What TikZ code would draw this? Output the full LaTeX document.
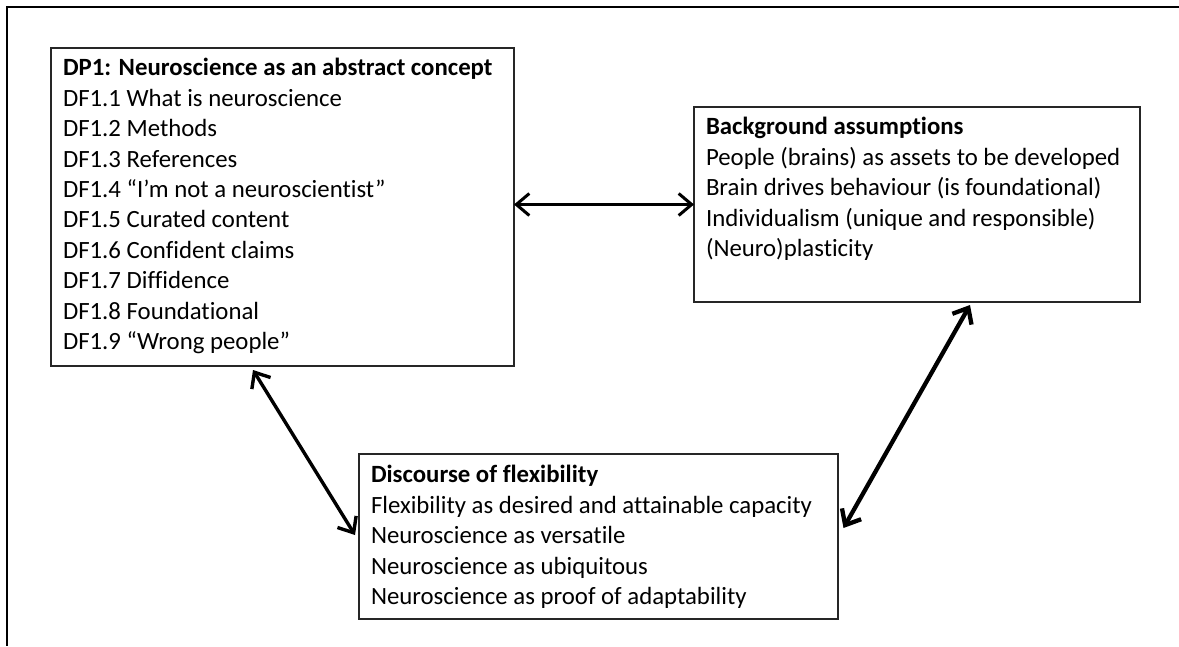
\documentclass[tikz,border=0pt]{standalone}
\usepackage{fontspec}
\setmainfont[Ligatures={NoCommon}]{Carlito}
\usetikzlibrary{arrows.meta}
\begin{document}
\begin{tikzpicture}[x=1pt,y=-1pt,
  panel/.style={draw=black!85, line width=1.3pt, inner sep=0pt, outer sep=0pt, anchor=north west},
  body/.style={align=left, inner sep=0pt, outer sep=0pt, anchor=north west,
    font=\fontsize{24.8}{30.4}\selectfont},
  link/.style={line width=#1, >={Straight Barb[length=13pt,width=22pt]}, <->},
  link/.default=3pt]
  % page extent and frame edges
  \useasboundingbox (0,0) rectangle (1179,646);
  \draw[line width=1.5pt] (1179,7) -- (7,7) -- (7,646);

  % boxes
  \node (box1) [panel, minimum width=463pt, minimum height=318pt] at (51,48) {};
  \node (box2) [panel, minimum width=446pt, minimum height=195pt] at (694,107) {};
  \node (box3) [panel, minimum width=479pt, minimum height=165pt] at (359,454) {};

  % box contents
  \node (t1) [body] at (63,54.7) {\strut\textbf{DP1: Neuroscience as an abstract concept}\\
    DF1.1 What is neuroscience\\
    DF1.2 Methods\\
    DF1.3 References\\
    DF1.4 “I’m not a neuroscientist”\\
    DF1.5 Curated content\\
    DF1.6 Confident claims\\
    DF1.7 Diffidence\\
    DF1.8 Foundational\\
    DF1.9 “Wrong people”};
  \node (t2) [body] at (706,113.7) {\strut\textbf{Background assumptions}\\
    People (brains) as assets to be developed\\
    Brain drives behaviour (is foundational)\\
    Individualism (unique and responsible)\\
    (Neuro)plasticity};
  \node (t3) [body] at (371,461.7) {\strut\textbf{Discourse of flexibility}\\
    Flexibility as desired and attainable capacity\\
    Neuroscience as versatile\\
    Neuroscience as ubiquitous\\
    Neuroscience as proof of adaptability};

  % connectors
  \draw[link] (box1.east |- box2.west) -- (box2.west);
  \draw[link=3.4pt] ([xshift=202pt,yshift=-4pt]box1.south west) -- ([xshift=-4pt,yshift=1.5pt]box3.west);
  \draw[link=4.3pt] ([xshift=53pt,yshift=-3pt]box2.south) -- ([xshift=5.5pt,yshift=8.5pt]box3.east);
\end{tikzpicture}
\end{document}
